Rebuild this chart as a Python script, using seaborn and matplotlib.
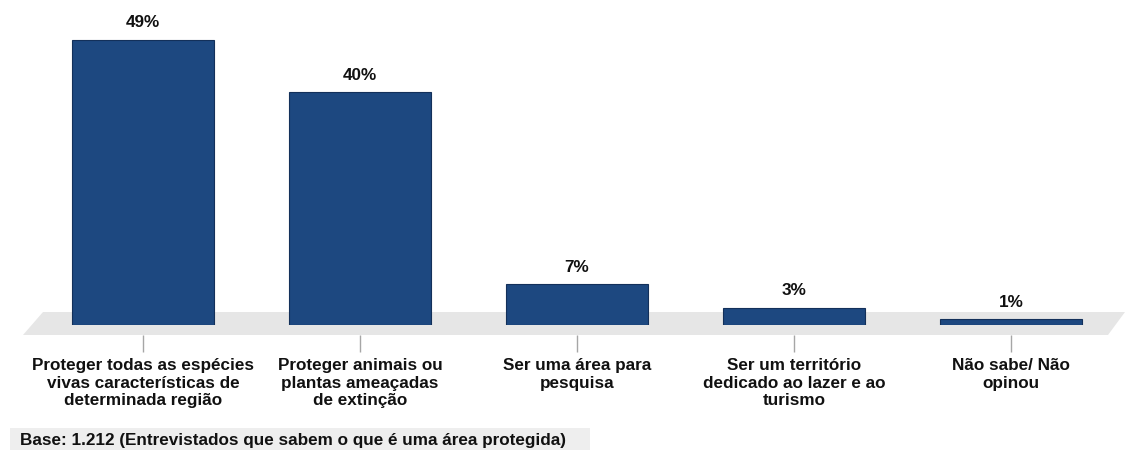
import matplotlib
matplotlib.use("Agg")
import matplotlib.pyplot as plt
from matplotlib.patches import Polygon, Rectangle
import seaborn as sns
import pandas as pd

categories = [
    "Proteger todas as espécies\nvivas características de\ndeterminada região",
    "Proteger animais ou\nplantas ameaçadas\nde extinção",
    "Ser uma área para\npesquisa",
    "Ser um território\ndedicado ao lazer e ao\nturismo",
    "Não sabe/ Não\nopinou",
]
values = [49, 40, 7, 3, 1]
value_labels = ["49%", "40%", "7%", "3%", "1%"]
base_note = "Base: 1.212 (Entrevistados que sabem o que é uma área protegida)"

sns.set_theme(style="white")
plt.rcParams["font.family"] = ["Liberation Sans", "DejaVu Sans"]

W, H = 1125, 450
fig = plt.figure(figsize=(W / 100, H / 100), dpi=100)
fig.patch.set_facecolor("white")

# axes placed in pixel terms: baseline 325 px from top, 5.82 px per percent
left_px, right_px = 34.5, 1119.5
base_px = 325
ymax = 55
ppu = 5.82
ax = fig.add_axes([left_px / W, (H - base_px) / H,
                   (right_px - left_px) / W, ymax * ppu / H])
ax.set_facecolor("none")

# grey floor strip under the bars
floor = Polygon([(43 / W, (H - 312) / H), (1125 / W, (H - 312) / H),
                 (1108 / W, (H - 335) / H), (23 / W, (H - 335) / H)],
                closed=True, transform=fig.transFigure, clip_on=False,
                facecolor="#e6e6e6", edgecolor="none", zorder=0)
ax.add_patch(floor)

df = pd.DataFrame({"cat": categories, "val": values})
sns.barplot(data=df, x="cat", y="val", color="#1d4880", saturation=1,
            width=0.655, ax=ax, zorder=3, edgecolor="#13305a", linewidth=0.8)

for i, (v, lab) in enumerate(zip(values, value_labels)):
    ax.annotate(lab, (i, v), xytext=(0, 12.3), textcoords="offset points",
                ha="center", va="center", fontsize=12.3, fontweight="bold",
                color="#111111")

ax.set_xlim(-0.5, 4.5)
ax.set_ylim(0, ymax)
ax.set_xlabel("")
ax.set_ylabel("")
ax.set_yticks([])
for s in ax.spines.values():
    s.set_visible(False)
ax.spines["bottom"].set_position(("outward", 7.2))
ax.tick_params(axis="x", bottom=True, length=12.2, width=1.0,
               color="#a6a6a6", pad=4.5)
for t in ax.get_xticklabels():
    t.set_fontsize(12.3)
    t.set_fontweight("bold")
    t.set_color("#111111")
    t.set_linespacing(1.22)

# footnote with light grey band
fig.patches.append(Rectangle((10 / W, 0), 580 / W, 22 / H,
                             transform=fig.transFigure,
                             facecolor="#eeeeee", edgecolor="none", zorder=0))
fig.text(20 / W, 9 / H, base_note, ha="left", va="center",
         fontsize=12.3, fontweight="bold", color="#111111")

fig.savefig("out.png", dpi=100)
